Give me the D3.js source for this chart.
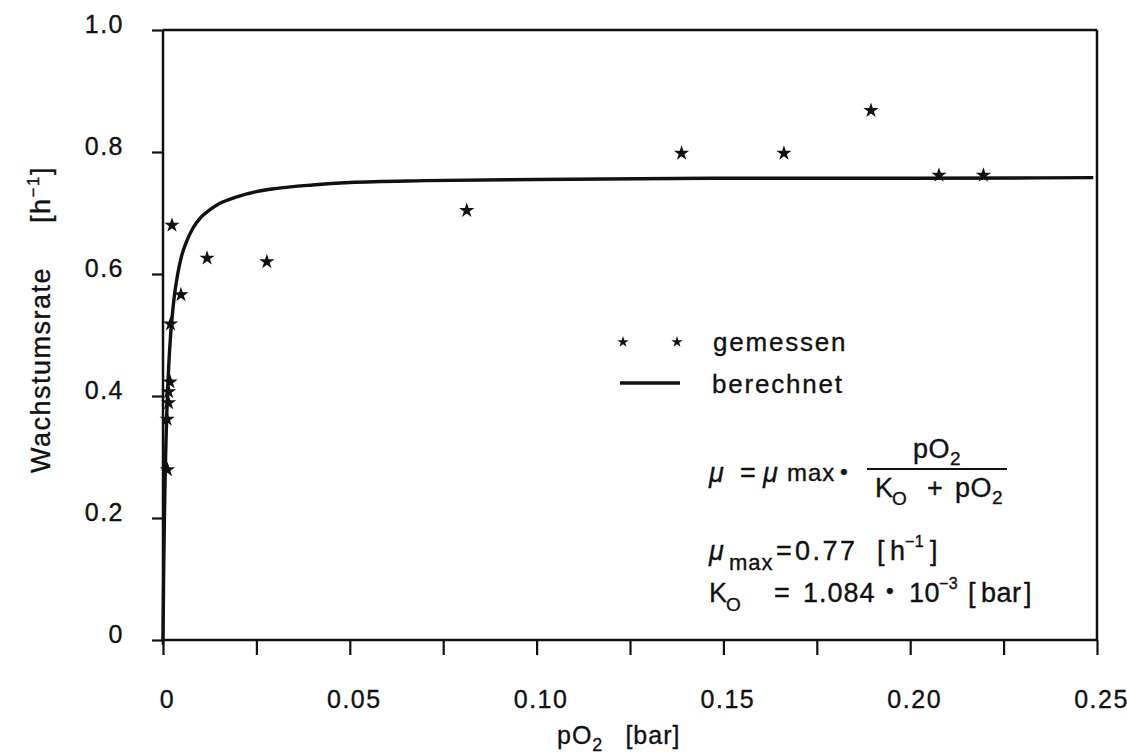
<!DOCTYPE html>
<html>
<head>
<meta charset="utf-8">
<script src="https://cdn.jsdelivr.net/npm/d3@7"></script>
<style>
  body { margin: 0; background: #fff; }
  text { font-family: "Liberation Sans", Arial, sans-serif; fill: #111; stroke: #111; stroke-width: 0.35px; }
</style>
</head>
<body>
<svg id="chart" width="1127" height="755"></svg>
<script>
const measuredP  = [0.0011, 0.0012, 0.0015, 0.0015, 0.0019, 0.0020, 0.0024, 0.0048, 0.0118, 0.0278, 0.0813, 0.1388, 0.1662, 0.1895, 0.2077, 0.2196];
const measuredMu = [0.362, 0.279, 0.389, 0.407, 0.423, 0.518, 0.680, 0.566, 0.626, 0.620, 0.704, 0.798, 0.798, 0.868, 0.762, 0.762];

// calculated curve (berechnet)
const calcP  = [0, 0.0002, 0.0004, 0.0006, 0.0008, 0.001, 0.0015, 0.002, 0.0025, 0.003, 0.004, 0.005, 0.0065, 0.008, 0.01, 0.0125, 0.015, 0.02, 0.025, 0.03, 0.04, 0.05, 0.07, 0.1, 0.15, 0.2, 0.249];
const calcMu = [0, 0.12, 0.208, 0.274, 0.326, 0.368, 0.445, 0.497, 0.533, 0.562, 0.602, 0.630, 0.656, 0.675, 0.692, 0.705, 0.715, 0.727, 0.735, 0.740, 0.746, 0.750, 0.753, 0.755, 0.757, 0.757, 0.758];

// axis ticks
const xMajor = [0, 0.05, 0.10, 0.15, 0.20, 0.25];
const xLabels = ['0', '0.05', '0.10', '0.15', '0.20', '0.25'];
const xMinor = [0, 0.025, 0.05, 0.075, 0.10, 0.125, 0.15, 0.175, 0.20, 0.225, 0.25];
const yTicks = [0, 0.2, 0.4, 0.6, 0.8, 1.0];
const yLabels = ['0', '0.2', '0.4', '0.6', '0.8', '1.0'];

const svg = d3.select('#chart');
const width = +svg.attr('width');
const height = +svg.attr('height');

const margin = { top: 30, right: 30, bottom: 115, left: 163 };
const innerWidth = width - margin.left - margin.right;
const innerHeight = height - margin.top - margin.bottom;

const xScale = d3.scaleLinear().domain([0, 0.25]).range([0, innerWidth]);
const yScale = d3.scaleLinear().domain([0, 1]).range([innerHeight, 0]);

const g = svg.append('g')
  .attr('transform', `translate(${margin.left},${margin.top})`);

// x axis: minor ticks every 0.025, labels on the 0.05 steps
const xAxisG = g.append('g')
  .attr('transform', `translate(0,${innerHeight})`)
  .call(d3.axisBottom(xScale).tickValues(xMinor).tickSize(15).tickFormat(''));
xAxisG.select('.domain').remove();
xAxisG.selectAll('.tick line').attr('stroke', '#111').attr('stroke-width', 2.2);

const xLabG = g.append('g')
  .attr('transform', `translate(0,${innerHeight})`)
  .call(d3.axisBottom(xScale).tickValues(xMajor).tickSize(0).tickPadding(50)
    .tickFormat((d, i) => xLabels[i]));
xLabG.select('.domain').remove();
xLabG.selectAll('.tick text')
  .attr('dx', '4px')
  .style('font-size', '25px').style('letter-spacing', '1.5px');

// y axis
const yAxisG = g.append('g')
  .call(d3.axisLeft(yScale).tickValues(yTicks).tickSize(11).tickPadding(28)
    .tickFormat((d, i) => yLabels[i]));
yAxisG.select('.domain').remove();
yAxisG.selectAll('.tick line').attr('stroke', '#111').attr('stroke-width', 2.2);
yAxisG.selectAll('.tick text')
  .attr('dy', '0.1em')
  .style('font-size', '25px').style('letter-spacing', '1.5px');

// frame
const frame = g.append('g').attr('stroke', '#111').attr('stroke-width', 2.5).attr('fill', 'none');
frame.append('line').attr('x1', 0).attr('x2', 0).attr('y1', yScale(1)).attr('y2', innerHeight + 5);
frame.append('line').attr('x1', 0).attr('x2', xScale(0.25)).attr('y1', yScale(0)).attr('y2', yScale(0));
frame.append('line').attr('x1', 0).attr('x2', xScale(0.25)).attr('y1', yScale(1)).attr('y2', yScale(1));
frame.append('line').attr('x1', xScale(0.25)).attr('x2', xScale(0.25)).attr('y1', yScale(1)).attr('y2', innerHeight);

// calculated curve
const calcData = calcP.map((p, i) => ({ p, mu: calcMu[i] }));
const line = d3.line()
  .x(d => xScale(d.p))
  .y(d => yScale(d.mu))
  .curve(d3.curveMonotoneX);
g.append('path')
  .datum(calcData)
  .attr('d', line)
  .attr('fill', 'none')
  .attr('stroke', '#111')
  .attr('stroke-width', 3.4);

// measured stars
const star = d3.symbol().type(d3.symbolStar).size(72);
const measData = measuredP.map((p, i) => ({ p, mu: measuredMu[i] }));
g.selectAll('path.star').data(measData)
  .enter().append('path')
    .attr('class', 'star')
    .attr('d', star)
    .attr('fill', '#111')
    .attr('transform', d => `translate(${xScale(d.p)},${yScale(d.mu)})`);

// legend
const legStar = d3.symbol().type(d3.symbolStar).size(40);
[623, 677].forEach(x => {
  svg.append('path').attr('d', legStar).attr('fill', '#111')
    .attr('transform', `translate(${x},342)`);
});
svg.append('line').attr('x1', 620).attr('x2', 680).attr('y1', 383).attr('y2', 383)
  .attr('stroke', '#111').attr('stroke-width', 3.4);
svg.append('text').attr('x', 713).attr('y', 351).style('font-size', '26px').style('letter-spacing', '1.8px').text('gemessen');
svg.append('text').attr('x', 712).attr('y', 393).style('font-size', '26px').style('letter-spacing', '1.8px').text('berechnet');

// formula
const fs = '27px';
const T = (x, y, s, opts = {}) => {
  const t = svg.append('text').attr('x', x).attr('y', y)
    .style('font-size', opts.size || fs)
    .style('letter-spacing', opts.ls || '0.5px')
    .text(s);
  if (opts.italic) t.style('font-style', 'italic');
  return t;
};
T(709, 482, 'μ', { italic: true });
T(740, 482, '=');
T(763, 482, 'μ', { italic: true });
T(787, 481, 'max', { size: '24px', ls: '1px' });
T(840, 479, '•', { size: '22px' });
T(913, 458, 'pO');
T(950, 465, '2', { size: '19px' });
svg.append('line').attr('x1', 867).attr('x2', 1007).attr('y1', 469).attr('y2', 469)
  .attr('stroke', '#111').attr('stroke-width', 2);
T(875, 497, 'K');
T(892, 505, 'O', { size: '19px' });
T(927, 497, '+');
T(955, 497, 'pO');
T(992, 504, '2', { size: '19px' });

T(709, 560, 'μ', { italic: true });
T(729, 570, 'max', { size: '22px', ls: '1px' });
T(776, 560, '=');
T(795, 560, '0.77', { ls: '2.5px' });
T(877, 560, '[');
T(890, 560, 'h');
T(905, 547, '−1', { size: '16px' });
T(930, 560, ']');

T(709, 602, 'K');
T(726, 611, 'O', { size: '19px' });
T(774, 602, '=');
T(803, 602, '1.084', { ls: '1px' });
T(886, 598, '•', { size: '22px' });
T(909, 602, '10');
T(939, 589, '−3', { size: '16px' });
T(968, 602, '[');
T(981, 602, 'bar');
T(1024, 602, ']');

// axis titles
svg.append('text')
  .attr('transform', 'translate(50,473) rotate(-90)')
  .style('font-size', '27px').style('letter-spacing', '1.5px')
  .call(t => {
    t.append('tspan').text('Wachstumsrate');
    t.append('tspan').attr('dx', 44).text('[h');
    t.append('tspan').attr('dy', -11).style('font-size', '17px').text('−1');
    t.append('tspan').attr('dy', 11).text(']');
  });

svg.append('text')
  .attr('x', 557).attr('y', 744)
  .style('font-size', '25px').style('letter-spacing', '1px')
  .call(t => {
    t.append('tspan').text('pO');
    t.append('tspan').attr('dy', 7).style('font-size', '18px').text('2');
    t.append('tspan').attr('dy', -7).attr('dx', 22).text('[bar]');
  });
</script>
</body>
</html>
